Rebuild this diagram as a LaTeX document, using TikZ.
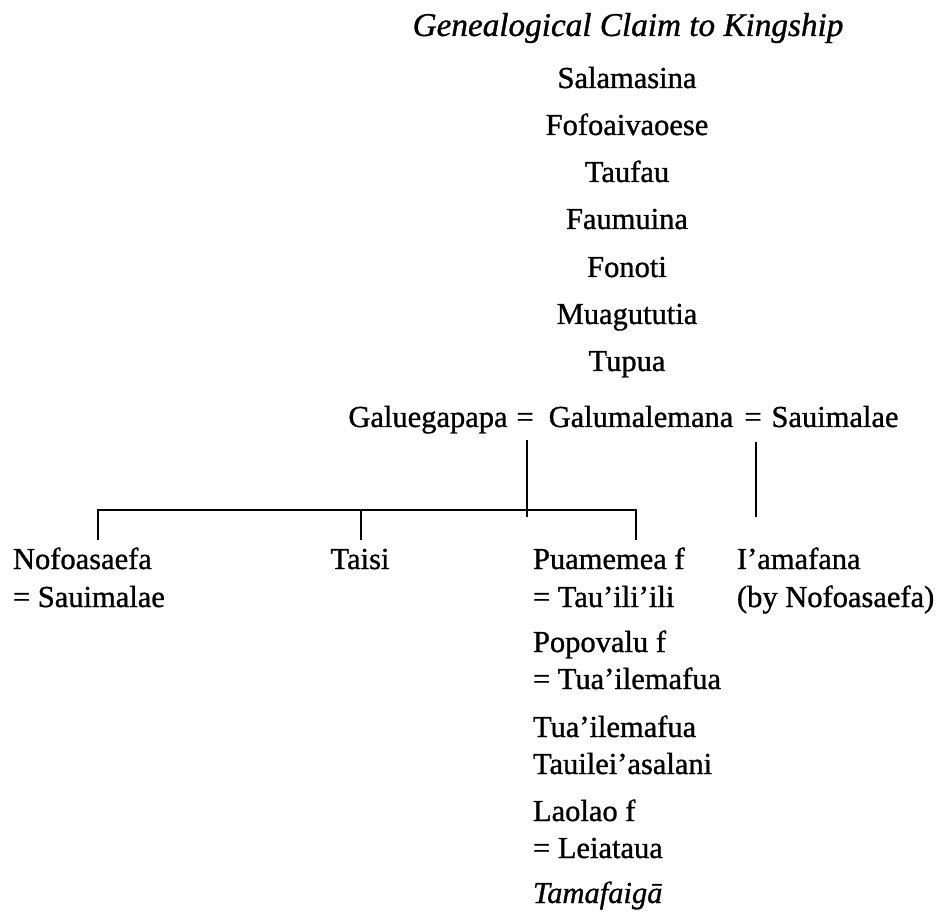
\documentclass[tikz,border=0pt]{standalone}
\usepackage{fontspec}
\setmainfont{Liberation Serif}[FakeBold=1]
\usetikzlibrary{calc}
\begin{document}
\begin{tikzpicture}[x=1pt,y=-1pt,
  person/.style={inner sep=0pt, outer sep=0pt, font=\fontsize{30.5}{36}\selectfont, anchor=base},
  lperson/.style={person, anchor=base west},
  heading/.style={inner sep=0pt, outer sep=0pt, font=\fontsize{33.2}{38}\selectfont\itshape, anchor=base},
  kin/.style={line width=2pt, line cap=butt}]
\useasboundingbox (0,0) rectangle (946,917);

% title
\node[heading] (title) at (628,36) {Genealogical Claim to Kingship};

% direct line of descent
\node[person] (salamasina) at (627,88)  {Salamasina};
\node[person] (fofoaivaoese) at (627,135) {Fofoaivaoese};
\node[person] (taufau)     at (627,182) {Taufau};
\node[person] (faumuina)   at (627,229) {Faumuina};
\node[person] (fonoti)     at (627,277) {Fonoti};
\node[person] (muagututia) at (627,324) {Muagututia};
\node[person] (tupua)      at (627,371) {Tupua};

% marriages of Galumalemana
\node[person] (galuegapapa)  at (428,427) {Galuegapapa};
\node[person] (eqA)          at (525,427) {=};
\node[person] (galumalemana) at (641,427) {Galumalemana};
\node[person] (eqB)          at (753,427) {=};
\node[person] (sauimalae)    at (835,427) {Sauimalae};

% children
\node[lperson] (nofoasaefa) at (13,569)  {Nofoasaefa};
\node[lperson] (nofoSpouse) at (13,607)  {= Sauimalae};
\node[person]  (taisi)      at (360,569) {Taisi};
\node[lperson] (puamemea)   at (533,569) {Puamemea f};
\node[lperson] (tauilili)   at (533,607) {= Tau’ili’ili};
\node[lperson] (popovalu)   at (533,652) {Popovalu f};
\node[lperson] (tuaSpouse)  at (533,689) {= Tua’ilemafua};
\node[lperson] (tuailemafua) at (533,737) {Tua’ilemafua};
\node[lperson] (tauilei)    at (533,774) {Tauilei’asalani};
\node[lperson] (laolao)     at (533,821) {Laolao f};
\node[lperson] (leiataua)   at (533,858) {= Leiataua};
\node[lperson, font=\fontsize{30.5}{36}\selectfont\itshape] (tamafaiga) at (533,903) {Tamafaigā};
\node[lperson] (iamafana)   at (737,569) {I’amafana};
\node[lperson] (byNofo)     at (737,607) {(by Nofoasaefa)};

% descent lines
\coordinate (dropA) at ($(eqA.base)+(2,13)$);
\coordinate (dropB) at ($(eqB.base)+(3,15)$);
\coordinate (forkA) at (dropA |- 0,517);
\coordinate (forkB) at (dropB |- 0,517);
\coordinate (tickY) at (0,540);
\coordinate (barL) at (98,510);
\coordinate (barM) at (361,510);
\coordinate (barR) at (636,510);

\draw[kin] (dropA) -- (forkA);
\draw[kin] (dropB) -- (forkB);
\draw[kin] (barL |- tickY) -- (barL) -- (barR) -- (barR |- tickY);
\draw[kin] (barM) -- (barM |- tickY);
\end{tikzpicture}
\end{document}
